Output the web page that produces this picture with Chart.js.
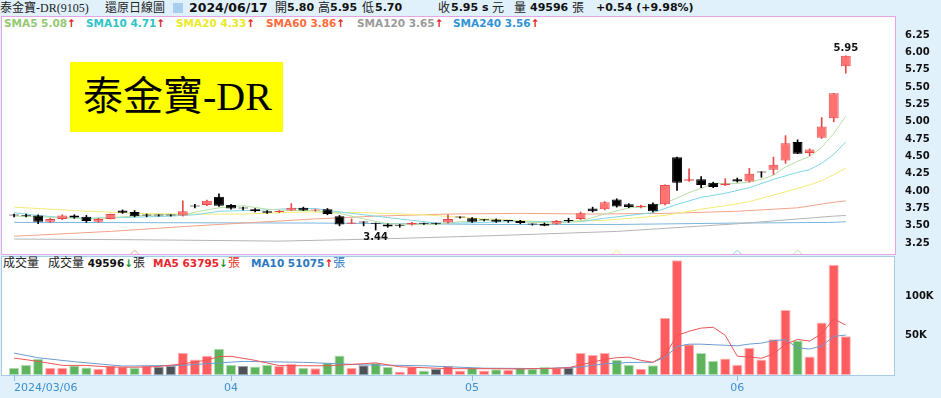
<!DOCTYPE html>
<html>
<head>
<meta charset="utf-8">
<script src="https://cdn.jsdelivr.net/npm/chart.js@4.4.1/dist/chart.umd.min.js"></script>
<style>
body { margin:0; width:941px; height:398px; background:#e1f1fc; position:relative; overflow:hidden; font-family:"DejaVu Sans", sans-serif; }
.abs { position:absolute; white-space:nowrap; }
.cj { font-family:"Liberation Serif","Noto Sans CJK TC",serif; font-size:12px; color:#222; }
.num { font-weight:bold; font-size:11px; color:#111; }
#hdr span { position:absolute; top:0; line-height:16px; white-space:nowrap; }
.ico { width:10px; height:10px; margin-top:3px; background:#a9cdee; }
#pbox { left:1px; top:16px; width:895px; height:239px; box-sizing:border-box; border:1px solid #e4a4e6; background:#fff; }
#vbox { left:1px; top:256px; width:894px; height:120px; box-sizing:border-box; border:1px solid #a6cbe9; background:#fff; }
#pc { position:absolute; left:0; top:16px; }
#vc { position:absolute; left:0; top:254px; }
#smaLeg span, #volLeg span { position:absolute; top:0; line-height:13px; font-weight:bold; font-size:10.5px; white-space:nowrap; }
#smaLeg { left:0; top:17px; }
#volLeg { left:0; top:257px; }
#volLeg .cj { font-weight:normal; font-size:12px; }
.up { color:#e02020; }
.dn { color:#1a9a2a; }
#title { left:70px; top:62px; width:213px; height:70px; background:#ffff00; font-family:"Liberation Serif","Noto Sans CJK TC",serif; font-size:40px; line-height:70px; color:#000; padding-left:13px; box-sizing:border-box; }
</style>
</head>
<body>
<div id="pbox" class="abs"></div>
<div id="vbox" class="abs"></div>
<div id="hdr" class="abs" style="left:0;top:0;width:941px;height:16px"></div>
<div id="smaLeg" class="abs"></div>
<div id="volLeg" class="abs"></div>
<canvas id="pc" width="941" height="239"></canvas>
<canvas id="vc" width="941" height="144"></canvas>
<div id="title" class="abs">泰金寶-DR</div>
<script>
const stockName = '泰金寶-DR(9105)';

const dates = ['2024/03/06','2024/03/07','2024/03/08','2024/03/11','2024/03/12','2024/03/13','2024/03/14','2024/03/15','2024/03/18','2024/03/19',
  '2024/03/20','2024/03/21','2024/03/22','2024/03/25','2024/03/26','2024/03/27','2024/03/28','2024/03/29',
  '2024/04/01','2024/04/02','2024/04/03','2024/04/08','2024/04/09','2024/04/10','2024/04/11','2024/04/12','2024/04/15','2024/04/16',
  '2024/04/17','2024/04/18','2024/04/19','2024/04/22','2024/04/23','2024/04/24','2024/04/25','2024/04/26','2024/04/29','2024/04/30',
  '2024/05/02','2024/05/03','2024/05/06','2024/05/07','2024/05/08','2024/05/09','2024/05/10','2024/05/13','2024/05/14','2024/05/15',
  '2024/05/16','2024/05/17','2024/05/20','2024/05/21','2024/05/22','2024/05/23','2024/05/24','2024/05/27','2024/05/28','2024/05/29',
  '2024/05/30','2024/05/31',
  '2024/06/03','2024/06/04','2024/06/05','2024/06/06','2024/06/07','2024/06/11','2024/06/12','2024/06/13','2024/06/14','2024/06/17'];

const opens = [3.65,3.64,3.65,3.56,3.60,3.65,3.63,3.56,3.60,3.72, 3.70,3.65,3.65,3.65,3.65,3.79,3.80,3.92,3.80,3.75,
  3.74,3.71,3.70,3.72,3.76,3.72,3.74,3.64,3.53,3.55, 3.53,3.52,3.51,3.52,3.53,3.53,3.55,3.62,3.61,3.58,
  3.59,3.57,3.57,3.52,3.53,3.53,3.57,3.60,3.75,3.74, 3.88,3.81,3.77,3.82,3.81,4.49,4.15,4.17,4.12,4.09,
  4.17,4.14,4.27,4.31,4.44,4.71,4.55,4.77,5.05,5.80];
const highs = [3.67,3.67,3.66,3.61,3.66,3.66,3.65,3.61,3.67,3.73, 3.72,3.67,3.66,3.66,3.86,3.81,3.87,3.96,3.81,3.77,
  3.75,3.72,3.72,3.82,3.77,3.74,3.75,3.65,3.60,3.56, 3.54,3.53,3.52,3.55,3.54,3.54,3.66,3.63,3.62,3.59,
  3.60,3.58,3.58,3.53,3.54,3.58,3.61,3.70,3.77,3.85, 3.89,3.82,3.80,3.83,4.09,4.49,4.32,4.21,4.13,4.18,
  4.19,4.33,4.28,4.49,4.80,4.74,4.61,5.06,5.41,5.95];
const lows = [3.63,3.63,3.53,3.55,3.59,3.61,3.55,3.55,3.60,3.68, 3.63,3.63,3.64,3.64,3.64,3.76,3.79,3.78,3.74,3.73,
  3.70,3.68,3.69,3.72,3.72,3.71,3.66,3.50,3.53,3.50, 3.44,3.48,3.48,3.51,3.52,3.52,3.54,3.61,3.55,3.57,
  3.55,3.55,3.53,3.51,3.50,3.52,3.55,3.59,3.70,3.73, 3.77,3.76,3.76,3.70,3.80,4.01,4.14,4.05,4.05,4.08,
  4.13,4.13,4.20,4.24,4.40,4.54,4.51,4.76,5.00,5.70];
const closes = [3.65,3.64,3.56,3.60,3.65,3.62,3.57,3.60,3.67,3.69, 3.64,3.65,3.65,3.65,3.71,3.78,3.86,3.79,3.75,3.75,
  3.71,3.69,3.71,3.76,3.72,3.73,3.67,3.52,3.55,3.55, 3.53,3.49,3.50,3.54,3.53,3.53,3.60,3.62,3.56,3.58,
  3.56,3.57,3.54,3.52,3.50,3.57,3.57,3.68,3.71,3.84, 3.78,3.77,3.79,3.71,4.09,4.12,4.17,4.09,4.06,4.11,
  4.14,4.25,4.27,4.38,4.69,4.54,4.60,4.93,5.41,5.95];
const prevClose = 3.67; // close before the first visible day

// 張
const volumes = [9300,13000,20700,9300,9300,12200,9700,8000,11900,10600, 9300,11400,10600,11400,28400,19900,24600,33500,13000,11400,
  11000,13000,11400,14400,9300,8500,15600,25000,9300,12600, 15200,10600,4600,10200,5900,8000,11900,5900,8900,5900,
  7500,6700,9300,8000,10200,8900,9700,28000,25400,28000, 19500,13000,8000,12600,72900,146700,39400,28000,18200,21200,
  13000,34700,19900,45800,83000,44000,23700,67000,140700,49596];

// moving averages: [day index, value]
const sma5 = [[0,3.64],[2,3.63],[4,3.62],[6,3.60],[8,3.62],[10,3.64],[12,3.66],[14,3.66],[16,3.73],[17,3.76],[19,3.79],[21,3.74],
  [23,3.72],[25,3.72],[27,3.68],[29,3.60],[31,3.53],[33,3.52],[35,3.52],[37,3.56],[39,3.58],[41,3.58],[43,3.55],[45,3.54],
  [47,3.57],[49,3.67],[51,3.76],[53,3.78],[54,3.83],[55,3.90],[56,3.98],[57,4.04],[58,4.11],[59,4.11],[60,4.11],[61,4.13],
  [62,4.17],[63,4.23],[64,4.35],[65,4.43],[66,4.50],[67,4.63],[68,4.83],[69,5.08]];
const sma10 = [[0,3.69],[2,3.65],[4,3.62],[6,3.61],[9,3.62],[11,3.63],[13,3.64],[15,3.66],[17,3.71],[19,3.72],[21,3.73],[23,3.75],
  [25,3.75],[27,3.70],[29,3.66],[31,3.62],[33,3.58],[35,3.54],[37,3.54],[39,3.55],[41,3.56],[43,3.56],[45,3.56],[47,3.56],
  [49,3.61],[51,3.65],[53,3.69],[55,3.81],[57,3.91],[59,3.97],[61,4.05],[63,4.17],[65,4.27],[66,4.31],[67,4.40],[68,4.53],[69,4.71]];
const sma20 = [[0,3.77],[5,3.72],[10,3.68],[14,3.67],[19,3.67],[24,3.70],[29,3.69],[34,3.66],[39,3.60],[44,3.56],[49,3.58],
  [54,3.65],[57,3.74],[59,3.79],[61,3.85],[64,3.99],[66,4.09],[67,4.15],[68,4.24],[69,4.33]];
const sma60 = [[0,3.35],[8,3.42],[15,3.50],[20,3.55],[25,3.60],[30,3.64],[36,3.67],[42,3.68],[48,3.67],[54,3.68],[60,3.71],[65,3.76],[68,3.84],[69,3.86]];
const sma120 = [[0,3.31],[10,3.30],[22,3.28],[30,3.31],[40,3.36],[50,3.42],[60,3.53],[68,3.64],[69,3.65]];
const sma240 = [[0,3.55],[25,3.54],[40,3.52],[50,3.52],[60,3.54],[68,3.55],[69,3.56]];

const volMa5 = [[0,21600],[2,17400],[4,12300],[6,12200],[8,10200],[10,9900],[12,10800],[14,14200],[16,19000],[17,23600],[18,23900],
  [20,18700],[22,12000],[24,11800],[26,11800],[28,13500],[30,15500],[32,10500],[34,9300],[36,8100],[38,8100],[40,8000],[42,7700],
  [44,8300],[46,9200],[47,13000],[48,16400],[49,20000],[50,22100],[51,22800],[52,18800],[53,16200],[54,25200],[55,50600],
  [56,55900],[57,59900],[58,61000],[59,50700],[60,24000],[61,23000],[62,21400],[63,26900],[64,39300],[65,45500],[66,43300],
  [67,52700],[68,71700],[69,63795]];
const volMa10 = [[0,28000],[2,22000],[5,17000],[9,11400],[14,12400],[19,17400],[24,16200],[29,13000],[34,11800],[39,8700],[44,8200],
  [47,10300],[49,14200],[51,16000],[53,16300],[54,22600],[55,36400],[56,39400],[57,39400],[58,38600],[59,38000],[60,37300],
  [61,39500],[62,40700],[63,44000],[64,45000],[65,34700],[66,33200],[67,37100],[68,49300],[69,51075]];

const priceTicks = [3.25,3.50,3.75,4.00,4.25,4.50,4.75,5.00,5.25,5.50,5.75,6.00,6.25];
const volTicks = [50000, 100000];

const maDefs = [
  { name:'SMA5', data:sma5, period:5, text:'#93c874', line:'#b7dfa5' },
  { name:'SMA10', data:sma10, period:10, text:'#2ec4c8', line:'#7fd5e6' },
  { name:'SMA20', data:sma20, period:20, text:'#eaea2a', line:'#f2ec76' },
  { name:'SMA60', data:sma60, period:60, text:'#ff6a3a', line:'#f3a488' },
  { name:'SMA120', data:sma120, period:120, text:'#9a9a9a', line:'#b4b4b4' },
  { name:'SMA240', data:sma240, period:240, text:'#2f92d6', line:'#7ab6df' }
];

const last = closes.length - 1;
const xMin = -1, xMax = 73;

// ---- header / legends ----
const chg = closes[last] - closes[last - 1];
function sp(left, cls, txt, style) {
  return `<span class="${cls}" style="left:${left}px;${style || ''}">${txt}</span>`;
}
document.getElementById('hdr').innerHTML =
  sp(0, 'cj', stockName) + sp(105, 'cj', '還原日線圖') + sp(173, 'ico', '') +
  sp(189, 'num', dates[last], 'font-size:12.5px') +
  sp(275, 'cj', '開') + sp(287, 'num', opens[last].toFixed(2)) +
  sp(318, 'cj', '高') + sp(330, 'num', highs[last].toFixed(2)) +
  sp(362, 'cj', '低') + sp(375, 'num', lows[last].toFixed(2)) +
  sp(438, 'cj', '收') + sp(451, 'num', closes[last].toFixed(2) + ' s') + sp(492, 'cj', '元') +
  sp(514, 'cj', '量') + sp(530, 'num', volumes[last]) + sp(572, 'cj', '張') +
  sp(596, 'num', (chg >= 0 ? '+' : '') + chg.toFixed(2) + ' (' + (chg >= 0 ? '+' : '') + (chg / closes[last - 1] * 100).toFixed(2) + '%)');

function arrow(arr) {
  const a = arr[arr.length - 1][1], b = arr[arr.length - 2][1];
  return a >= b ? '<b class="up">↑</b>' : '<b class="dn">↓</b>';
}
const smaLeft = [4, 86, 176, 266, 357, 453];
document.getElementById('smaLeg').innerHTML = maDefs.map((m, k) =>
  sp(smaLeft[k], '', m.name + ' ' + m.data[m.data.length - 1][1].toFixed(2) + arrow(m.data), 'color:' + m.text)).join('');

const volArrow = volumes[last] >= volumes[last - 1] ? '<b class="up">↑</b>' : '<b class="dn">↓</b>';
document.getElementById('volLeg').innerHTML =
  sp(3, 'cj', '成交量') +
  sp(48, '', '<span class="cj" style="position:static">成交量</span> ' + volumes[last] + volArrow + '<span class="cj" style="position:static">張</span>', 'color:#111') +
  sp(153, '', 'MA5 ' + volMa5[volMa5.length - 1][1] + arrow(volMa5) + '<span class="cj" style="position:static;color:#e32">張</span>', 'color:#e8262b') +
  sp(251, '', 'MA10 ' + volMa10[volMa10.length - 1][1] + arrow(volMa10) + '<span class="cj" style="position:static;color:#2a78c0">張</span>', 'color:#2a78c0');

// ---- charts ----
Chart.defaults.font.family = '"DejaVu Sans", sans-serif';
Chart.defaults.animation = false;

const RED = '#ff7272', RED_EDGE = '#e94848', BLACK = '#000';
const bodyFill = closes.map((c, i) => c > opens[i] ? RED : BLACK);
const bodyEdge = closes.map((c, i) => c > opens[i] ? RED_EDGE : BLACK);

const pts = arr => arr.map(([i, v]) => ({ x: i, y: v }));

const marksPlugin = {
  id: 'marks',
  afterDatasetsDraw(chart) {
    const { ctx, scales: { x, y } } = chart;
    const hi = Math.max(...highs), lo = Math.min(...lows);
    const hiI = highs.indexOf(hi), loI = lows.indexOf(lo);
    ctx.save();
    ctx.font = 'bold 10px "DejaVu Sans"';
    ctx.fillStyle = '#111';
    ctx.textAlign = 'center';
    ctx.textBaseline = 'bottom';
    ctx.fillText(hi.toFixed(2), x.getPixelForValue(hiI), y.getPixelForValue(hi) - 2);
    ctx.textBaseline = 'top';
    ctx.fillText(lo.toFixed(2), x.getPixelForValue(loI), y.getPixelForValue(lo) + 2);
    // deduction markers of the moving averages
    const base = chart.height - 1;
    maDefs.forEach(m => {
      const di = last - m.period + 1;
      if (di < 0) return;
      const px = x.getPixelForValue(di);
      ctx.strokeStyle = m.line;
      ctx.lineWidth = 1;
      ctx.beginPath();
      ctx.moveTo(px - 4, base);
      ctx.lineTo(px, base - 4);
      ctx.lineTo(px + 4, base);
      ctx.stroke();
    });
    ctx.restore();
  }
};

const xScale = {
  type: 'linear', min: xMin, max: xMax, offset: false, display: false,
  grid: { offset: false }
};

new Chart(document.getElementById('pc'), {
  type: 'bar',
  data: {
    datasets: [
      ...maDefs.map(m => ({
        type: 'line', label: m.name, data: pts(m.data), borderColor: m.line, borderWidth: 1,
        pointRadius: 0, spanGaps: true, tension: 0, order: 10
      })),
      {
        label: 'wick', data: lows.map((l, i) => ({ x: i, y: [l, highs[i]] })),
        backgroundColor: bodyEdge, barThickness: 1, grouped: false, order: 5
      },
      {
        label: 'body', data: opens.map((o, i) => ({ x: i, y: [o, closes[i]] })),
        backgroundColor: bodyFill, borderColor: bodyEdge, borderWidth: 1, borderSkipped: false,
        minBarLength: 1, barPercentage: 0.82, categoryPercentage: 1, grouped: false, order: 1
      }
    ]
  },
  options: {
    responsive: false,
    layout: { padding: { left: 2, top: 0, right: 0, bottom: 0 } },
    plugins: { legend: { display: false }, tooltip: { enabled: false } },
    scales: {
      x: xScale,
      y: {
        position: 'right', min: 3.08, max: 6.524,
        grid: { display: false }, border: { display: false },
        ticks: { color: '#111', padding: 3, font: { size: 10, weight: 'bold' }, callback: v => v.toFixed(2) },
        afterBuildTicks: s => { s.ticks = priceTicks.map(v => ({ value: v })); },
        afterFit: s => { s.width = 47; s.paddingTop = 0; s.paddingBottom = 0; }
      }
    }
  },
  plugins: [marksPlugin]
});

// volume colours: up red, down green, unchanged grey
const volFill = closes.map((c, i) => {
  const p = i === 0 ? prevClose : closes[i - 1];
  return c > p ? '#ff5c60' : c < p ? '#5db45d' : '#4c5057';
});
const volEdge = volFill.map(c => c === '#ff5c60' ? '#ffb3b5' : c === '#5db45d' ? '#b5e0b5' : '#9a9ea4');

// first trading day of each month gets a tick
const monthTicks = dates.map((d, i) => i).filter(i => i === 0 || dates[i].slice(5, 7) !== dates[i - 1].slice(5, 7));

new Chart(document.getElementById('vc'), {
  type: 'bar',
  data: {
    datasets: [
      { type: 'line', label: 'MA5', data: pts(volMa5), borderColor: '#ec5555', borderWidth: 1, pointRadius: 0, spanGaps: true, order: 0 },
      { type: 'line', label: 'MA10', data: pts(volMa10), borderColor: '#6b9bd0', borderWidth: 1, pointRadius: 0, spanGaps: true, order: 0 },
      {
        label: '成交量', data: volumes.map((v, i) => ({ x: i, y: v })),
        backgroundColor: volFill, borderColor: volEdge, borderWidth: 1, borderSkipped: false,
        barPercentage: 0.84, categoryPercentage: 1, grouped: false, order: 2
      }
    ]
  },
  options: {
    responsive: false,
    layout: { padding: { left: 2, top: 2, right: 0, bottom: 0 } },
    plugins: { legend: { display: false }, tooltip: { enabled: false } },
    scales: {
      x: {
        type: 'linear', min: xMin, max: xMax, offset: false,
        border: { display: false },
        grid: {
          offset: false, drawOnChartArea: false, drawTicks: true, tickLength: 6,
          color: c => (c.tick && c.tick.value > last) ? 'rgba(0,0,0,0)' : '#8dbde3'
        },
        ticks: {
          color: '#3d8fd0', padding: 1, align: 'inner', maxRotation: 0, font: { size: 11 },
          callback: v => v === 0 ? dates[0] : (v <= last ? dates[v].slice(5, 7) : '')
        },
        afterBuildTicks: s => { s.ticks = monthTicks.concat([xMax]).map(v => ({ value: v })); },
        afterFit: s => { s.height = 23; s.paddingLeft = 0; s.paddingRight = 0; }
      },
      y: {
        position: 'right', min: 0, max: 152000,
        grid: { display: false }, border: { display: false },
        ticks: { color: '#111', padding: 3, font: { size: 10, weight: 'bold' }, callback: v => (v / 1000) + 'K' },
        afterBuildTicks: s => { s.ticks = volTicks.map(v => ({ value: v })); },
        afterFit: s => { s.width = 47; s.paddingTop = 0; s.paddingBottom = 0; }
      }
    }
  }
});
</script>
</body>
</html>
